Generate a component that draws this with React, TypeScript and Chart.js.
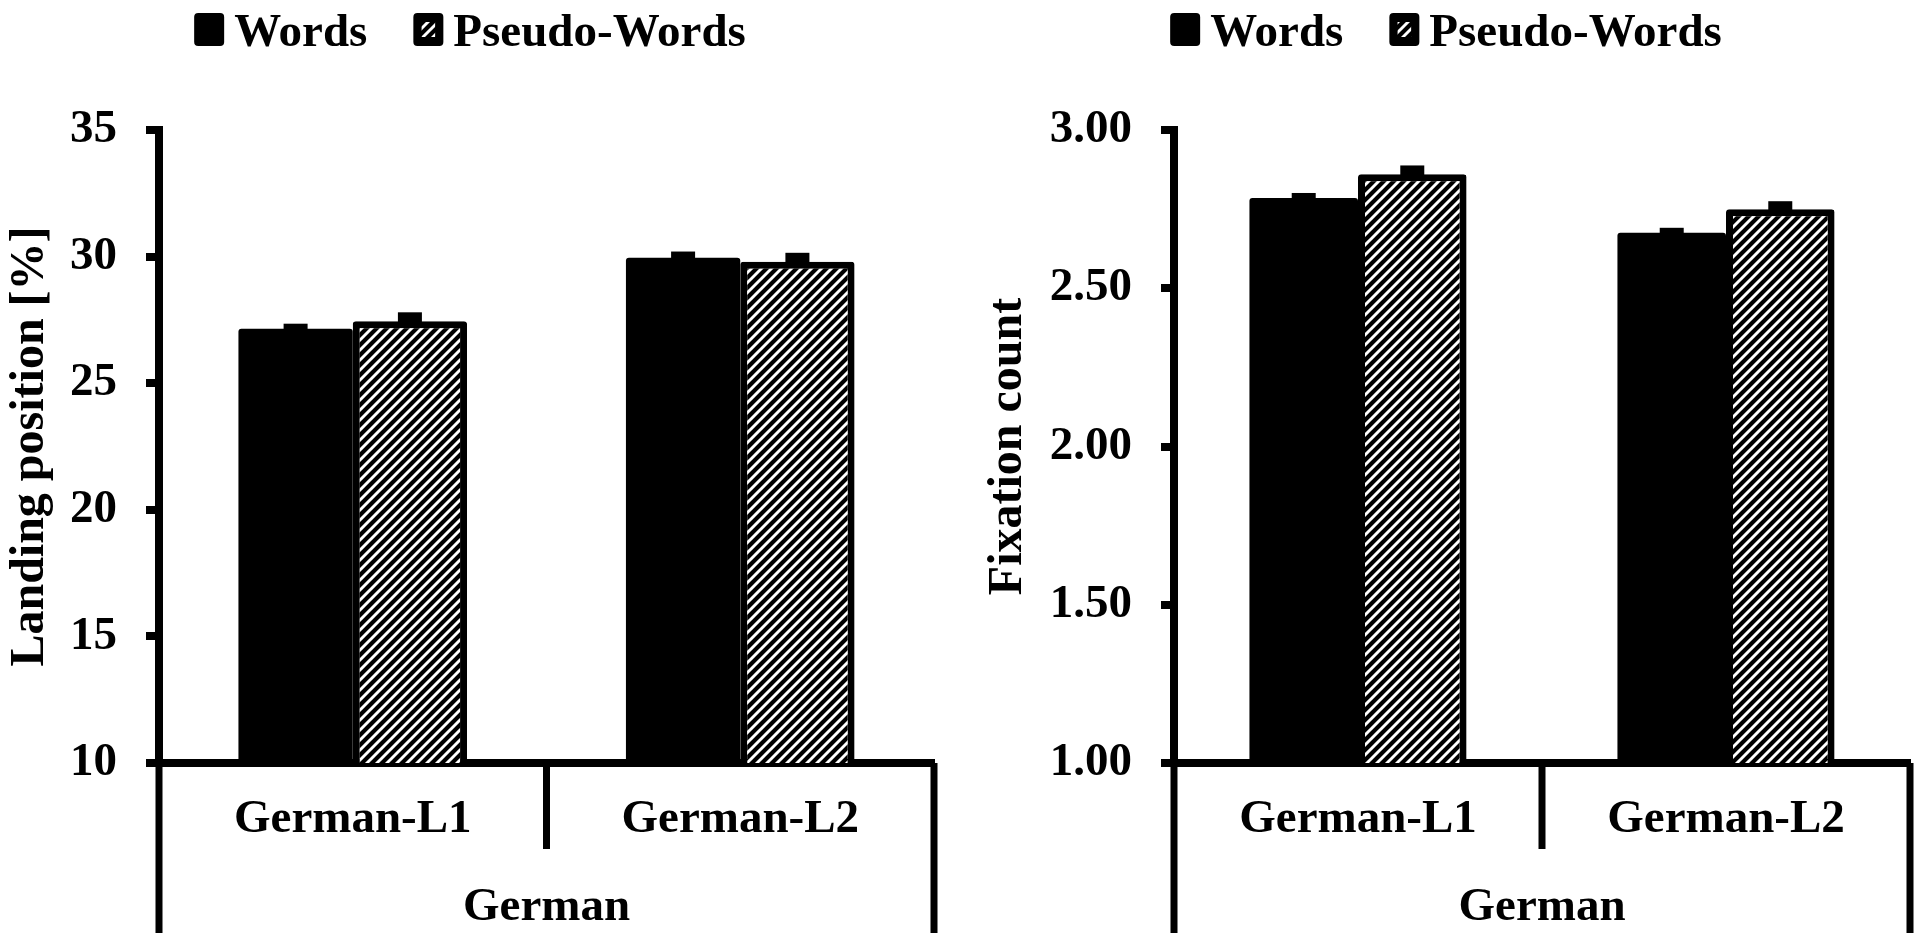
import React, { useEffect, useRef } from "react";
import { Chart, registerables } from "chart.js";

Chart.register(...registerables);

// ---------- data ----------
const categories = ["German-L1", "German-L2"];
const groupLabel = "German";
const seriesNames = ["Words", "Pseudo-Words"];

const landingTitle = "Landing position [%]";
const landingWords = [27.15, 29.95];
const landingPseudo = [27.45, 29.8];
const landingWordsErr = [0.2, 0.25];
const landingPseudoErr = [0.35, 0.35];
const landingTicks = [10, 15, 20, 25, 30, 35];

const fixTitle = "Fixation count";
const fixWords = [2.785, 2.675];
const fixPseudo = [2.86, 2.75];
const fixWordsErr = [0.016, 0.016];
const fixPseudoErr = [0.028, 0.025];
const fixTicks = [1.0, 1.5, 2.0, 2.5, 3.0];

// ---------- styles ----------
const FAMILY = '"Liberation Serif", "Times New Roman", serif';
const font = (size: number) => ({ family: FAMILY, size, weight: "bold" as const, lineHeight: 1.2 });

function makeHatch(): CanvasPattern | string {
  const p = 10;
  const c = document.createElement("canvas");
  c.width = p;
  c.height = p;
  const g = c.getContext("2d");
  if (!g) return "#000";
  g.fillStyle = "#000";
  g.fillRect(0, 0, p, p);
  g.strokeStyle = "#fff";
  g.lineWidth = 2.9;
  g.lineCap = "square";
  g.beginPath();
  g.moveTo(0, p);
  g.lineTo(p, 0);
  g.moveTo(-p / 2, p / 2);
  g.lineTo(p / 2, -p / 2);
  g.moveTo(p / 2, p + p / 2);
  g.lineTo(p + p / 2, p / 2);
  g.stroke();
  const pat = g.createPattern(c, "repeat");
  return pat || "#000";
}

function roundRect(ctx: CanvasRenderingContext2D, x: number, y: number, w: number, h: number, r: number) {
  ctx.beginPath();
  ctx.moveTo(x + r, y);
  ctx.lineTo(x + w - r, y);
  ctx.quadraticCurveTo(x + w, y, x + w, y + r);
  ctx.lineTo(x + w, y + h - r);
  ctx.quadraticCurveTo(x + w, y + h, x + w - r, y + h);
  ctx.lineTo(x + r, y + h);
  ctx.quadraticCurveTo(x, y + h, x, y + h - r);
  ctx.lineTo(x, y + r);
  ctx.quadraticCurveTo(x, y, x + r, y);
  ctx.closePath();
}

const decorPlugin = {
  id: "decor",
  afterDatasetsDraw(chart: any) {
    const ctx: CanvasRenderingContext2D = chart.ctx;
    const y = chart.scales.y;
    ctx.save();
    ctx.fillStyle = "#000";
    chart.data.datasets.forEach((ds: any, di: number) => {
      const meta = chart.getDatasetMeta(di);
      meta.data.forEach((bar: any, i: number) => {
        const v = ds.data[i];
        const top = y.getPixelForValue(v + ds.errors[i]);
        ctx.fillRect(bar.x - 12, top, 24, bar.y - top + 2);
      });
    });
    ctx.restore();
  },
  afterDraw(chart: any, _args: any, opts: any) {
    const ctx: CanvasRenderingContext2D = chart.ctx;
    const { chartArea } = chart;
    const xs = chart.scales.x;
    const b = chartArea.bottom;
    ctx.save();
    // multi-level category separators
    ctx.strokeStyle = "#000";
    ctx.lineWidth = 7;
    const mid = (xs.getPixelForValue(0) + xs.getPixelForValue(1)) / 2;
    const seps: [number, number][] = [
      [chartArea.left, 170],
      [mid, 86],
      [chartArea.right, 170],
    ];
    seps.forEach(([sx, len]) => {
      ctx.beginPath();
      ctx.moveTo(sx, b);
      ctx.lineTo(sx, b + len);
      ctx.stroke();
    });
    // group label
    ctx.fillStyle = "#000";
    ctx.font = `bold 47px ${FAMILY}`;
    ctx.textAlign = "center";
    ctx.textBaseline = "alphabetic";
    ctx.fillText(groupLabel, (chartArea.left + chartArea.right) / 2, b + 157);

    // legend
    const boxW = 30;
    const boxH = 33;
    const gap = 10;
    const itemGap = 46;
    const w0 = ctx.measureText(seriesNames[0]).width;
    const w1 = ctx.measureText(seriesNames[1]).width;
    const total = boxW + gap + w0 + itemGap + boxW + gap + w1;
    let x = opts.legendCx - total / 2;
    const baseY = 46;
    const boxTop = 13;
    ctx.textAlign = "left";
    // Words
    ctx.fillStyle = "#000";
    roundRect(ctx, x, boxTop, boxW, boxH, 4);
    ctx.fill();
    x += boxW + gap;
    ctx.fillText(seriesNames[0], x, baseY);
    x += w0 + itemGap;
    // Pseudo-Words
    ctx.fillStyle = "#000";
    roundRect(ctx, x, boxTop, boxW, boxH, 4);
    ctx.fill();
    ctx.save();
    ctx.beginPath();
    ctx.rect(x + 8, boxTop + 9, boxW - 16, boxH - 18);
    ctx.clip();
    ctx.fillStyle = opts.pattern;
    ctx.fillRect(x + 8, boxTop + 9, boxW - 16, boxH - 18);
    ctx.restore();
    ctx.fillStyle = "#000";
    x += boxW + gap;
    ctx.fillText(seriesNames[1], x, baseY);
    ctx.restore();
  },
};

type Cfg = {
  left: number;
  width: number;
  yWidth: number;
  padRight: number;
  titlePad: number;
  legendCx: number;
  title: string;
  words: number[];
  pseudo: number[];
  wordsErr: number[];
  pseudoErr: number[];
  ticks: number[];
  decimals: number;
};

const HEIGHT = 947;

function BarPanel({ cfg }: { cfg: Cfg }) {
  const ref = useRef<HTMLCanvasElement | null>(null);
  useEffect(() => {
    if (!ref.current) return;
    const pattern = makeHatch();
    const common = {
      borderColor: "#000",
      borderRadius: 3,
      borderSkipped: "start" as const,
      barPercentage: 1,
      categoryPercentage: 0.59,
    };
    const chart = new Chart(ref.current, {
      type: "bar",
      data: {
        labels: categories,
        datasets: [
          { label: seriesNames[0], data: cfg.words, errors: cfg.wordsErr, backgroundColor: "#000", borderWidth: 0, ...common } as any,
          { label: seriesNames[1], data: cfg.pseudo, errors: cfg.pseudoErr, backgroundColor: pattern, borderWidth: 7, ...common } as any,
        ],
      },
      options: {
        responsive: false,
        animation: false,
        devicePixelRatio: 1,
        layout: { padding: { top: 130, left: 0, right: cfg.padRight, bottom: 0 } },
        plugins: {
          legend: { display: false },
          tooltip: { enabled: false },
          decor: { legendCx: cfg.legendCx, pattern },
        } as any,
        scales: {
          x: {
            grid: { display: false, drawTicks: false },
            border: { display: true, color: "#000", width: 8 },
            ticks: { color: "#000", font: font(47), padding: 29, maxRotation: 0, autoSkip: false },
            afterFit: (s: any) => {
              s.height = HEIGHT - 763;
            },
          },
          y: {
            min: cfg.ticks[0],
            max: cfg.ticks[cfg.ticks.length - 1],
            ticks: {
              stepSize: cfg.ticks[1] - cfg.ticks[0],
              color: "#000",
              font: font(47),
              padding: 29,
              callback: (v: any) => Number(v).toFixed(cfg.decimals),
            },
            grid: {
              drawOnChartArea: false,
              drawTicks: true,
              tickLength: 13,
              tickWidth: 8,
              tickColor: "#000",
              color: "#000",
              lineWidth: 8,
            },
            border: { display: true, color: "#000", width: 8 },
            title: {
              display: true,
              text: cfg.title,
              color: "#000",
              font: font(48),
              padding: { top: cfg.titlePad, bottom: 0 },
            },
            afterFit: (s: any) => {
              s.width = cfg.yWidth;
            },
          },
        },
      },
      plugins: [decorPlugin],
    });
    return () => chart.destroy();
  }, [cfg]);
  return (
    <canvas
      ref={ref}
      width={cfg.width}
      height={HEIGHT}
      style={{ position: "absolute", left: cfg.left, top: 0, width: cfg.width, height: HEIGHT }}
    />
  );
}

const leftCfg: Cfg = {
  left: 0,
  width: 960,
  yWidth: 159,
  padRight: 26,
  titlePad: 2,
  legendCx: 470,
  title: landingTitle,
  words: landingWords,
  pseudo: landingPseudo,
  wordsErr: landingWordsErr,
  pseudoErr: landingPseudoErr,
  ticks: landingTicks,
  decimals: 0,
};

const rightCfg: Cfg = {
  left: 960,
  width: 967,
  yWidth: 214,
  padRight: 17,
  titlePad: 20,
  legendCx: 486,
  title: fixTitle,
  words: fixWords,
  pseudo: fixPseudo,
  wordsErr: fixWordsErr,
  pseudoErr: fixPseudoErr,
  ticks: fixTicks,
  decimals: 2,
};

export default function App() {
  return (
    <div style={{ position: "absolute", left: 0, top: 0, width: 1927, height: HEIGHT, background: "#fff" }}>
      <BarPanel cfg={leftCfg} />
      <BarPanel cfg={rightCfg} />
    </div>
  );
}
